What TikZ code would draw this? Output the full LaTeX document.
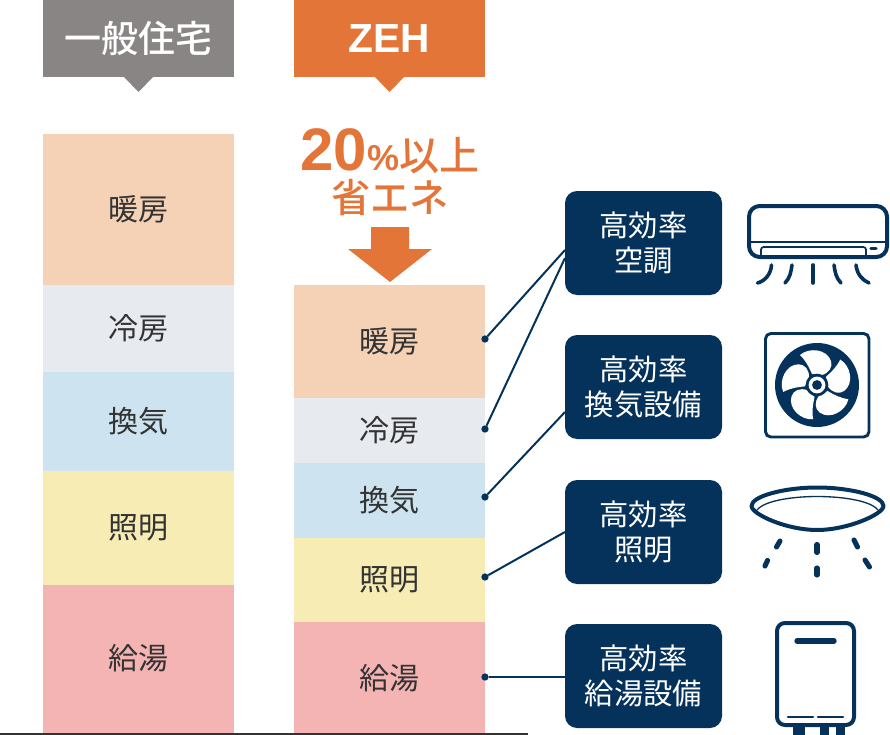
\documentclass[tikz,border=0pt]{standalone}
\usepackage{fontspec}
\newfontfamily\cjk{Noto Sans CJK JP}
\newfontfamily\cjkm{Noto Sans CJK JP Medium}
\newfontfamily\cjkb{Noto Sans CJK JP Bold}
\newfontfamily\latb{Liberation Sans Bold}
\usetikzlibrary{positioning}

\definecolor{navyc}{RGB}{5,50,90}
\definecolor{orangec}{RGB}{228,117,56}
\definecolor{grayc}{RGB}{137,133,133}
\definecolor{danc}{RGB}{245,209,182}
\definecolor{reic}{RGB}{231,234,239}
\definecolor{kanc}{RGB}{205,228,240}
\definecolor{shoc}{RGB}{246,236,180}
\definecolor{kyuc}{RGB}{245,180,180}
\definecolor{textc}{RGB}{51,51,51}

\tikzset{
  every picture/.style={line width=0.75pt},
  barbox/.style={anchor=north west,minimum width=143.25pt,inner sep=0pt,outer sep=0pt,text=textc,font=\cjk\fontsize{22.5}{26}\selectfont},
  headbox/.style={anchor=north west,minimum width=143.25pt,minimum height=57.75pt,inner sep=0pt,outer sep=0pt,text=white},
  effbox/.style={fill=navyc,rounded corners=9pt,minimum width=117.75pt,minimum height=78pt,inner sep=0pt,outer sep=0pt,text=white,align=center,font=\cjk\fontsize{22}{26.7}\selectfont},
  linkline/.style={draw=navyc,line width=1.5pt},
  dotc/.style={circle,fill=navyc,minimum size=5.5pt,inner sep=0pt,outer sep=0pt},
  iconline/.style={draw=navyc,line width=3pt,line cap=round,line join=round},
}

\begin{document}
\begin{tikzpicture}[x=0.75pt,y=0.75pt,yscale=-1,xscale=1]
\useasboundingbox (0,0) rectangle (890,735);

%headers
\node (headgen) [headbox,fill=grayc,font=\cjkm\fontsize{27.75}{30}\selectfont] at (43,0) {一般住宅};
\node (headzeh) [headbox,fill=orangec,font=\latb\fontsize{30.5}{30}\selectfont] at (294,0) {ZEH};
\fill [grayc] (124,77) -- (153,77) -- (138.5,92) -- cycle;
\fill [orangec] (375,77) -- (404,77) -- (389.5,92) -- cycle;

%left column
\node (gdan) [barbox,fill=danc,minimum height=151*0.75pt] at (43,134) {暖房};
\node (grei) [barbox,fill=reic,minimum height=87*0.75pt] at (43,285) {冷房};
\node (gkan) [barbox,fill=kanc,minimum height=99*0.75pt] at (43,372) {\raisebox{1.2pt}{換気}};
\node (gsho) [barbox,fill=shoc,minimum height=114*0.75pt] at (43,471) {照明};
\node (gkyu) [barbox,fill=kyuc,minimum height=150*0.75pt] at (43,585) {\raisebox{4.5pt}{給湯}};

%right column
\node (zdan) [barbox,fill=danc,minimum height=113*0.75pt] at (294,285) {暖房};
\node (zrei) [barbox,fill=reic,minimum height=65*0.75pt] at (294,398) {冷房};
\node (zkan) [barbox,fill=kanc,minimum height=75*0.75pt] at (294,463) {換気};
\node (zsho) [barbox,fill=shoc,minimum height=84*0.75pt] at (294,538) {照明};
\node (zkyu) [barbox,fill=kyuc,minimum height=113*0.75pt] at (294,622) {\raisebox{3pt}{給湯}};

%base line
\draw [textc,line width=1.5pt] (0,734) -- (528,734);

%saving label and arrow
\node (save) [inner sep=0pt,text=orangec,font=\cjkm\fontsize{30}{30}\selectfont] at (390,151) {{\latb\fontsize{45}{30}\selectfont 20}{\latb\fontsize{27}{30}\selectfont\%}以上};
\node (shoene) [inner sep=0pt,text=orangec,font=\cjkm\fontsize{29.5}{30}\selectfont] at (390,198) {省エネ};
\fill [orangec] (371,227) -- (409,227) -- (409,249) -- (432,249) -- (390,282) -- (348,249) -- (371,249) -- cycle;

%effect boxes
\node (bkucho) [effbox] at (643.5,243) {高効率\\空調};
\node (bkanki) [effbox] at (643.5,387) {高効率\\換気設備};
\node (bshomei) [effbox] at (643.5,532) {高効率\\照明};
\node (bkyuto) [effbox] at (643.5,676) {高効率\\給湯設備};

%connectors
\node (d1) [dotc] at (485,339) {};
\node (d2) [dotc] at (485,429) {};
\node (d3) [dotc] at (485,497) {};
\node (d4) [dotc] at (485,577) {};
\node (d5) [dotc] at (485,677) {};
\coordinate (e1) at (565,250);
\coordinate (e2) at (565,258);
\coordinate (e3) at (565,412);
\draw [linkline] (d1) -- (e1);
\draw [linkline] (d2) -- (e2);
\draw [linkline] (d3) -- (e3);
\draw [linkline] (d4) -- (bshomei.west);
\draw [linkline] (d5) -- (bkyuto.west |- d5);

%air conditioner
\draw [iconline,rounded corners=8pt] (749,206) rectangle (887,257);
\draw [navyc,line width=1.3pt] (748,242) -- (887,242);
\draw [navyc,line width=1.3pt,rounded corners=2pt] (761,257) -- (761,247) -- (866,247) -- (866,257);
\draw [navyc,line width=2.4pt,line cap=round] (871,248.5) -- (876,248.5);
\draw [iconline,line width=2.7pt] (771.5,265) .. controls (771,274) and (765,281) .. (757.5,283);
\draw [iconline,line width=2.7pt] (792,265) .. controls (791,272) and (790,278) .. (785,283);
\draw [iconline,line width=2.7pt] (813,265) -- (813,283);
\draw [iconline,line width=2.7pt] (834,265) .. controls (835,272) and (836,278) .. (841,283);
\draw [iconline,line width=2.7pt] (856,265) .. controls (857,274) and (862,280) .. (869,283);

%fan
\draw [iconline,line width=2.2pt,rounded corners=4pt] (765.5,333.5) rectangle (869,437);
\fill [navyc] (817,385) circle [radius=31.5pt];
\foreach \ang in {0,72,144,216,288}{
  \fill [white,shift={(817,385)},rotate=\ang] (-5,-11) .. controls (-8,-18) and (-11,-24) .. (-17,-30) .. controls (-8,-38) and (10,-36) .. (14,-24) .. controls (16,-18) and (12,-12) .. (5,-10) -- cycle;
}
\fill [navyc] (817,385) circle [radius=8.5pt];
\fill [white] (817,385) circle [radius=6.3pt];
\fill [navyc] (817,385) circle [radius=3.7pt];

%ceiling light
\draw [iconline] (751.5,506) .. controls (751.5,496) and (785,487.5) .. (817,487.5) .. controls (850,487.5) and (883.5,496) .. (883.5,506) .. controls (883.5,514) and (848,530) .. (817,530) .. controls (786,530) and (751.5,514) .. (751.5,506) -- cycle;
\draw [navyc,line width=1pt] (757,510) .. controls (765,500) and (795,496.5) .. (817,496.5) .. controls (840,496.5) and (870,500) .. (878,510);
\foreach \xa/\ya/\xb/\yb in {780/541/776.5/547,767.5/560.5/765/566,817/544.5/817/552.5,817/568/817/575,854/540/857.5/547,865/560/869.5/567}{
  \draw [iconline,line width=3.8pt] (\xa,\ya) -- (\xb,\yb);
}

%water heater
\draw [iconline,rounded corners=6pt] (777,623) rectangle (854,725);
\draw [iconline,line width=4pt] (797,641) -- (834,641);
\draw [iconline,line width=2pt] (788,717) -- (813,717);
\draw [iconline,line width=2pt] (818,717) -- (843,717);
\fill [navyc] (793,726) rectangle (805,735);
\fill [navyc] (820,726) rectangle (829,735);
\fill [navyc] (836,726) rectangle (845,735);

\end{tikzpicture}
\end{document}
